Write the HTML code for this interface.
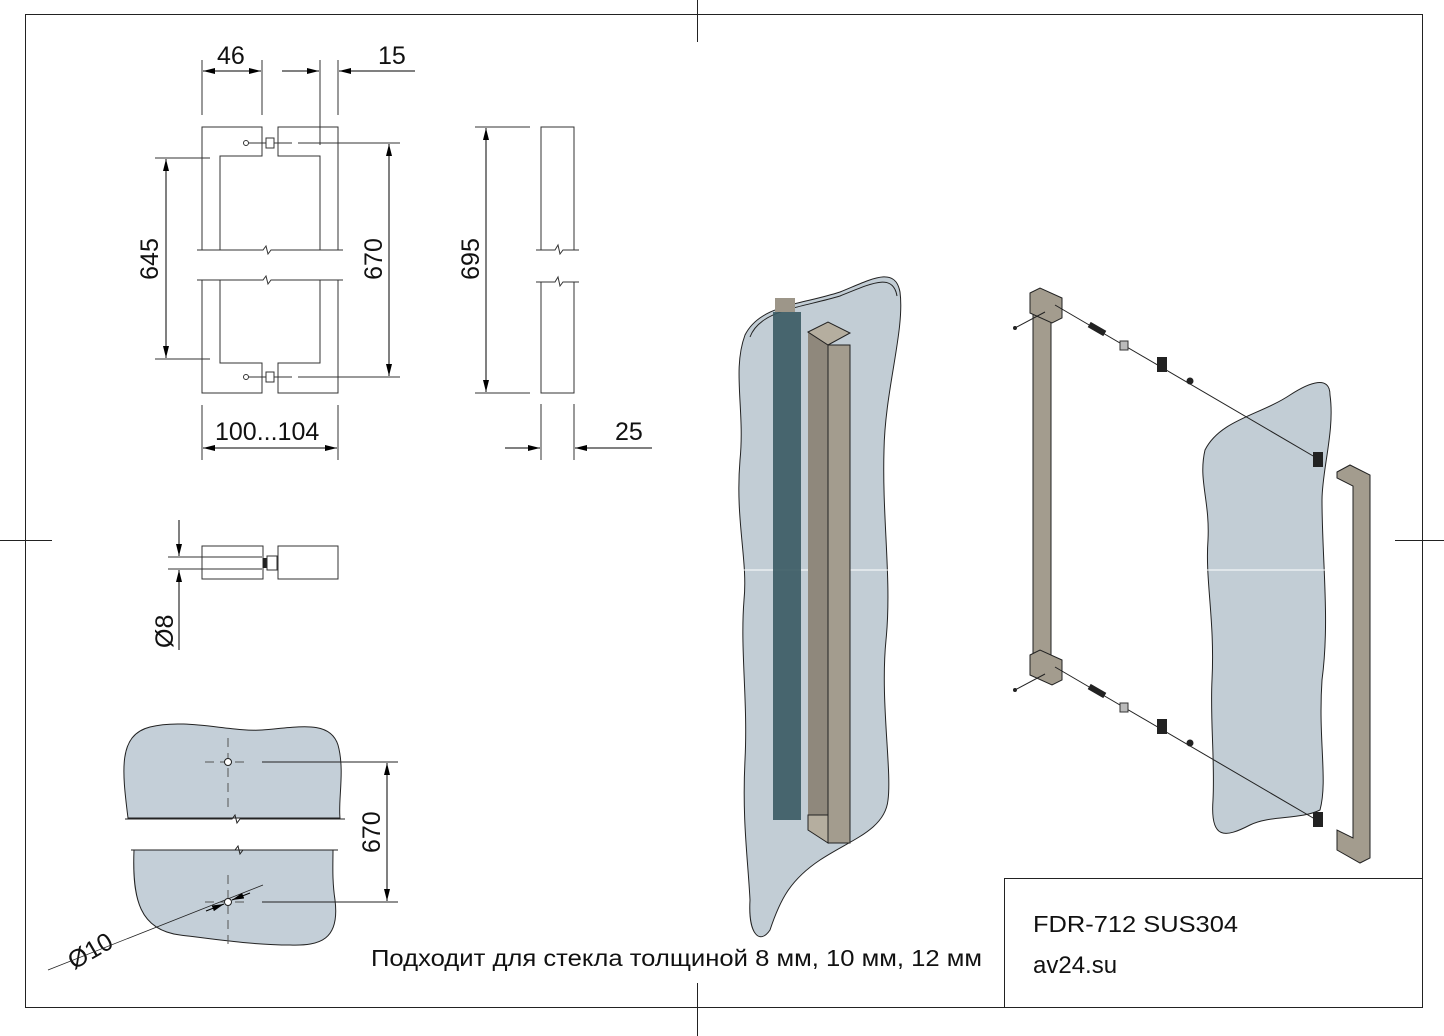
<!DOCTYPE html>
<html><head><meta charset="utf-8"><style>html,body{margin:0;padding:0;background:#fff}svg{display:block}</style></head><body>
<svg width="1444" height="1036" viewBox="0 0 1444 1036" xmlns="http://www.w3.org/2000/svg" font-family="Liberation Sans, sans-serif">
<defs>
<marker id="a" viewBox="0 0 12 6" refX="12" refY="3" markerWidth="12" markerHeight="6" orient="auto-start-reverse" markerUnits="userSpaceOnUse"><path d="M0,0L12,3L0,6z" fill="#000"/></marker>
</defs>
<rect width="1444" height="1036" fill="#fff"/>
<g stroke="#222" stroke-width="1" fill="none">
<rect x="25.5" y="14.5" width="1397" height="993"/>
<rect x="1004.5" y="878.5" width="418" height="129"/>
<line x1="697.5" y1="0" x2="697.5" y2="42"/><line x1="697.5" y1="983" x2="697.5" y2="1036"/>
<line x1="0" y1="540.5" x2="52" y2="540.5"/><line x1="1395" y1="540.5" x2="1444" y2="540.5"/>
</g>
<!-- front elevation -->
<g stroke="#333" stroke-width="1" fill="none">
<path d="M202,250V127H262V156H220V250M202,280V393H262V363H220V280"/>
<path d="M338,250V127H278V156H320V250M338,280V393H278V363H320V280"/>
<path d="M197,250H263l3,-4l2,8l3,-4H343M197,280H263l3,-4l2,8l3,-4H343"/>
<line x1="202" y1="115" x2="202" y2="60"/><line x1="262" y1="115" x2="262" y2="60"/>
<line x1="320" y1="145" x2="320" y2="60"/><line x1="338" y1="115" x2="338" y2="60"/>
<line x1="202" y1="405" x2="202" y2="460"/><line x1="338" y1="405" x2="338" y2="460"/>
<line x1="155" y1="158" x2="210" y2="158"/><line x1="155" y1="359" x2="210" y2="359"/>
<line x1="298" y1="143" x2="400" y2="143"/><line x1="298" y1="377" x2="400" y2="377"/>
<line x1="248" y1="143" x2="292" y2="143"/><line x1="248" y1="377" x2="292" y2="377"/>
</g>
<g fill="#fff" stroke="#333"><circle cx="246" cy="143" r="2.5"/><circle cx="246" cy="377" r="2.5"/>
<rect x="266" y="138" width="8" height="10"/><rect x="266" y="372" width="8" height="10"/></g>
<g stroke="#000" stroke-width="1" fill="none">
<line x1="203" y1="71" x2="261" y2="71" marker-start="url(#a)" marker-end="url(#a)"/>
<line x1="282" y1="71" x2="319" y2="71" marker-end="url(#a)"/>
<line x1="415" y1="71" x2="339" y2="71" marker-end="url(#a)"/>
<line x1="203" y1="448" x2="337" y2="448" marker-start="url(#a)" marker-end="url(#a)"/>
<line x1="166" y1="159" x2="166" y2="358" marker-start="url(#a)" marker-end="url(#a)"/>
<line x1="389" y1="144" x2="389" y2="376" marker-start="url(#a)" marker-end="url(#a)"/>
</g>
<g font-size="25" fill="#111">
<text x="217" y="64">46</text><text x="378" y="64">15</text><text x="215" y="440">100...104</text>
<text transform="translate(158,259) rotate(-90)" text-anchor="middle">645</text>
<text transform="translate(382,259) rotate(-90)" text-anchor="middle">670</text>
<text transform="translate(479,259) rotate(-90)" text-anchor="middle">695</text>
<text x="615" y="440">25</text>
<text transform="translate(173,648) rotate(-90)">Ø8</text>
<text transform="translate(380,853) rotate(-90)">670</text>
<text transform="translate(74,970) rotate(-30)">Ø10</text>
</g>
<!-- side view -->
<g stroke="#333" fill="none">
<path d="M541,250V127H574V250M541,282V393H574V282"/>
<path d="M536,250H555l3,-5l2,9l3,-4H579M536,282H555l3,-5l2,9l3,-4H579"/>
<line x1="475" y1="127" x2="530" y2="127"/><line x1="475" y1="393" x2="530" y2="393"/>
<line x1="541" y1="404" x2="541" y2="460"/><line x1="574" y1="404" x2="574" y2="460"/>
</g>
<g stroke="#000" fill="none">
<line x1="486" y1="128" x2="486" y2="392" marker-start="url(#a)" marker-end="url(#a)"/>
<line x1="505" y1="448" x2="540" y2="448" marker-end="url(#a)"/>
<line x1="652" y1="448" x2="575" y2="448" marker-end="url(#a)"/>
</g>
<!-- small side -->
<g stroke="#333" fill="none">
<rect x="202" y="546" width="61" height="33"/><rect x="278" y="546" width="60" height="33"/>
<line x1="168" y1="557" x2="262" y2="557"/><line x1="168" y1="569" x2="262" y2="569"/>
</g>
<rect x="263" y="558" width="4" height="10" fill="#222"/><rect x="267" y="556" width="10" height="14" fill="#fff" stroke="#333"/>
<g stroke="#000" fill="none">
<line x1="179" y1="520" x2="179" y2="556" marker-end="url(#a)"/>
<line x1="179" y1="650" x2="179" y2="570" marker-end="url(#a)"/>
</g>
<!-- glass plan -->
<g fill="#c4cfd8" stroke="#222">
<path d="M128,818C122,770 118,735 150,727C185,718 230,732 262,730C300,727 330,720 338,745C345,770 338,800 340,818Z"/>
<path d="M134,850C132,900 140,930 180,935C220,940 255,945 290,945C320,946 340,940 335,900C332,880 333,865 333,850Z"/>
</g>
<g stroke="#222" fill="none">
<path d="M125,819H232l3,-4l2,8l3,-4H345M131,850H235l3,-4l2,8l3,-4H338"/>
<path d="M228,738V808M205,762H250M228,875V945M205,902H250" stroke="#555" stroke-dasharray="9,6"/>
<line x1="262" y1="762" x2="398" y2="762"/><line x1="262" y1="902" x2="398" y2="902"/>
<line x1="48" y1="970" x2="263" y2="885" stroke-width="0.8"/>
</g>
<circle cx="228" cy="762" r="3.5" fill="#fff" stroke="#222"/><circle cx="228" cy="902" r="3.5" fill="#fff" stroke="#222"/>
<g stroke="#000" fill="none">
<line x1="387" y1="763" x2="387" y2="901" marker-start="url(#a)" marker-end="url(#a)"/>
<line x1="206" y1="911" x2="224" y2="904" marker-end="url(#a)"/>
<line x1="250" y1="893" x2="232" y2="900" marker-end="url(#a)"/>
</g>
<!-- assembled 3D -->
<path d="M745,335C760,305 800,305 840,292C870,280 895,265 900,292C905,330 885,390 884,450C882,520 892,580 886,640C880,700 892,770 888,800C885,830 850,840 820,860C790,880 780,900 770,930C760,945 748,935 750,900C748,860 742,820 745,760C748,700 740,650 744,600C748,560 735,520 740,460C745,410 732,370 745,335Z" fill="#c2cdd5" stroke="#222"/>
<path d="M750,337C760,310 800,308 840,296C870,284 893,272 897,296" fill="none" stroke="#222"/>
<line x1="740" y1="570" x2="890" y2="570" stroke="#fff"/>
<rect x="773" y="312" width="28" height="508" fill="#3a5a63" opacity="0.9"/>
<rect x="775" y="298" width="20" height="14" fill="#9d9689"/>
<rect x="808" y="332" width="20" height="490" fill="#8f887c"/>
<rect x="828" y="345" width="22" height="498" fill="#a39c8e" stroke="#222"/>
<path d="M808,332L828,322L850,333L828,345Z" fill="#b5ae9f" stroke="#222"/>
<path d="M808,815L828,815V843L808,830Z" fill="#b5ae9f" stroke="#222"/>
<!-- exploded -->
<path d="M1205,450C1220,420 1260,415 1290,395C1310,382 1330,375 1330,395C1335,430 1322,470 1322,500C1322,560 1330,620 1322,680C1318,740 1328,780 1320,810C1300,820 1270,815 1250,825C1225,838 1210,840 1213,800C1215,760 1210,720 1212,680C1215,620 1205,580 1208,540C1210,500 1198,480 1205,450Z" fill="#c2cdd5" stroke="#222"/>
<line x1="1205" y1="570" x2="1330" y2="570" stroke="#fff"/>
<rect x="1033" y="305" width="18" height="370" fill="#a39c8e" stroke="#222"/>
<path d="M1030,293L1040,288L1062,298V318L1052,323L1030,313Z" fill="#a39c8e" stroke="#222"/>
<path d="M1030,655L1040,650L1062,660V680L1052,685L1030,675Z" fill="#a39c8e" stroke="#222"/>
<g stroke="#222" fill="none">
<line x1="1015" y1="328" x2="1045" y2="312"/><line x1="1055" y1="305" x2="1320" y2="460"/>
<line x1="1015" y1="690" x2="1045" y2="674"/><line x1="1055" y1="667" x2="1320" y2="822"/></g>
<g fill="#222">
<circle cx="1015" cy="328" r="2"/><circle cx="1015" cy="690" r="2"/>
<rect x="1088" y="326" width="18" height="6" transform="rotate(30 1097 329)"/>
<rect x="1088" y="688" width="18" height="6" transform="rotate(30 1097 691)"/>
<rect x="1157" y="357" width="10" height="15"/><rect x="1157" y="719" width="10" height="15"/>
<circle cx="1190" cy="381" r="3.5"/><circle cx="1190" cy="743" r="3.5"/>
<rect x="1313" y="452" width="10" height="15"/><rect x="1313" y="812" width="10" height="15"/>
</g>
<g fill="#bbb" stroke="#333"><rect x="1120" y="341" width="8" height="9"/><rect x="1120" y="703" width="8" height="9"/></g>
<rect x="1353" y="480" width="16" height="370" fill="#a39c8e" stroke="#222"/>
<path d="M1337,472L1350,465L1370,475V858L1360,863L1337,850V830L1353,838V486L1337,478Z" fill="#a39c8e" stroke="#222"/>
<!-- text -->
<text x="371" y="966" font-size="23" textLength="611" lengthAdjust="spacingAndGlyphs" fill="#111">Подходит для стекла толщиной 8 мм, 10 мм, 12 мм</text>
<text x="1033" y="932" font-size="23" textLength="205" lengthAdjust="spacingAndGlyphs" fill="#111">FDR-712 SUS304</text>
<text x="1033" y="973" font-size="24" fill="#111">av24.su</text>
</svg>
</body></html>
